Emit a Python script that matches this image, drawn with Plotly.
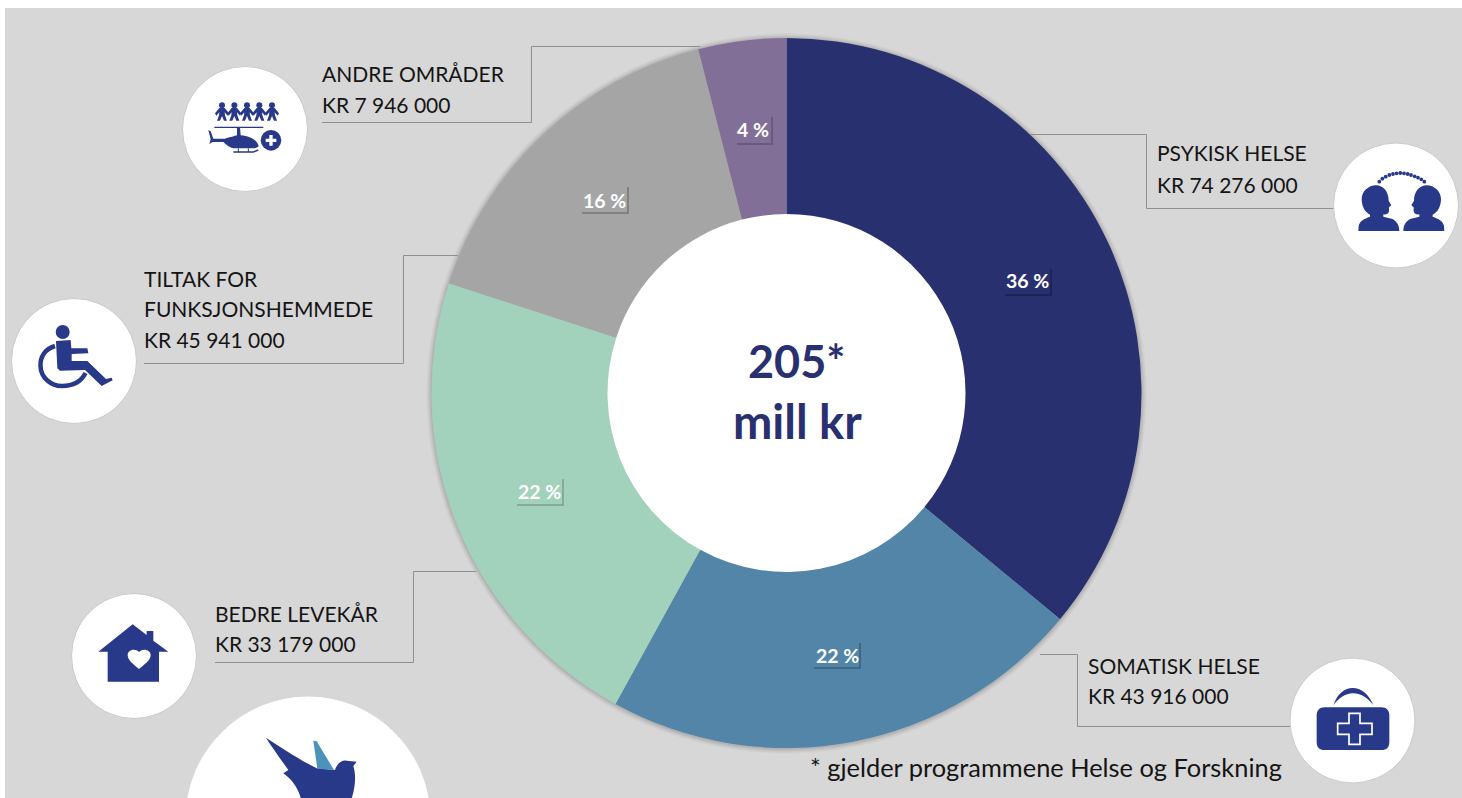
import re
import plotly.graph_objects as go

W, H = 1462, 798

# ---- data ----
slice_names = ["Psykisk helse", "Somatisk helse", "Tiltak for funksjonshemmede", "Bedre levekår", "Andre områder"]
slice_percent = [36, 22, 22, 16, 4]
slice_text = ["36 %", "22 %", "22 %", "16 %", "4 %"]
slice_colors = ["#29306f", "#5285a8", "#a2d1bc", "#a5a5a5", "#826f98"]
centre_lines = ["205*", "mill kr"]
footnote = "* gjelder programmene Helse og Forskning"
label_lines = [
    ("ANDRE OMRÅDER", 322, 74), ("KR 7 946 000", 322, 104),
    ("PSYKISK HELSE", 1157, 153), ("KR 74 276 000", 1157, 184),
    ("TILTAK FOR", 144, 278), ("FUNKSJONSHEMMEDE", 144, 308), ("KR 45 941 000", 144, 339),
    ("BEDRE LEVEKÅR", 215, 613), ("KR 33 179 000", 215, 643),
    ("SOMATISK HELSE", 1088, 665), ("KR 43 916 000", 1088, 695),
]
slice_label_pos = [(1027, 281), (837, 655), (539, 491), (604, 200), (753, 130)]

NAVY = "#29398a"
TXT = "#141414"
BG = "#d7d7d7"
LINE = "#8e8e8e"
CX, CY, R_OUT, R_IN = 786.5, 393, 355, 179

def px(x): return x / W
def py(y): return 1 - y / H

def path(s, ox=0, oy=0, k=1.0):
    """path in picture pixels (or zoomed pixels) -> paper coordinates"""
    toks = re.findall(r"[A-Za-z]|-?\d+\.?\d*", s)
    out, i = [], 0
    for t in toks:
        if t.isalpha():
            out.append(t); i = 0
        else:
            v = float(t) / k
            if i % 2 == 0:
                out.append(f"{px(v + ox):.5f}")
            else:
                out.append(f"{py(v + oy):.5f}")
            i += 1
    return " ".join(out)

shapes = []
def poly(s, ox=0, oy=0, k=1.0, fill=NAVY, layer="above"):
    shapes.append(dict(type="path", xref="paper", yref="paper", path=path(s, ox, oy, k),
                       fillcolor=fill, line=dict(width=0), layer=layer))
def stroke(s, color=LINE, width=1, ox=0, oy=0, k=1.0, layer="above"):
    shapes.append(dict(type="path", xref="paper", yref="paper", path=path(s, ox, oy, k),
                       fillcolor="rgba(0,0,0,0)", line=dict(width=width, color=color), layer=layer))
def circle(cx, cy, r, fill="white", line=None, lw=0, layer="above"):
    shapes.append(dict(type="circle", xref="paper", yref="paper",
                       x0=px(cx - r), x1=px(cx + r), y0=py(cy + r), y1=py(cy - r),
                       fillcolor=fill, line=dict(width=lw, color=line or fill), layer=layer))

# background panel
shapes.append(dict(type="rect", xref="paper", yref="paper", x0=px(5), x1=1, y0=0, y1=py(8),
                   fillcolor=BG, line=dict(width=0), layer="below"))
# soft donut shadow + centre
for dr, a in [(5, 0.035), (4, 0.04), (3, 0.05), (2, 0.06), (1, 0.08)]:
    circle(CX, CY + 0.5, R_OUT + dr, fill=f"rgba(70,70,70,{a})", layer="below")
circle(CX, CY, R_IN + 1, fill="white", layer="below")

# leader lines
for s in ["M1030,134.5 L1146.5,134.5 L1146.5,208.5 L1334,208.5",
          "M1040,654.5 L1077.5,654.5 L1077.5,726.5 L1290,726.5",
          "M476,571.5 L413.5,571.5 L413.5,662.5 L215,662.5",
          "M458,255.5 L403.5,255.5 L403.5,363.5 L144,363.5",
          "M700,46.5 L531.5,46.5 L531.5,122.5 L322,122.5"]:
    stroke(s)

# icon discs
for cx, cy, r in [(245, 129, 62.5), (1396, 205.5, 62.5), (74, 361, 62.5), (134, 656, 62.5), (1352.5, 720.5, 62.5), (308, 819, 122)]:
    circle(cx, cy, r, line="#cacaca" if r < 100 else "white", lw=1)

# label shadow tabs (right + bottom edges)
for x0, y0, x1, y1, c in [(1005, 269, 1051, 295, "rgba(15,20,60,0.6)"),
                          (814, 643, 860, 668, "rgba(25,50,75,0.45)"),
                          (517, 479, 563, 505, "rgba(80,100,90,0.45)"),
                          (582, 187, 628, 213, "rgba(70,70,70,0.5)"),
                          (737, 117, 772, 144, "rgba(60,45,80,0.45)")]:
    stroke(f"M{x1},{y0} L{x1},{y1} L{x0},{y1}", color=c, width=1.5)

# --- bird ---
poly("M258,143 C300,170 360,210 410,235 L465,240 C470,222 485,208 500,212 L530,215 L520,228 C530,260 525,300 510,340 L365,340 C362,310 345,275 310,250 L325,240 C300,205 275,170 258,143 Z", 180, 690, 3)
poly("M400,152 L410,154 L462,240 L412,236 Z", 180, 690, 3, fill="#4c93bb")

# --- wheelchair ---
circle(62.7, 332, 7, fill=NAVY)
poly("M168,168 L212,165 L214,190 L262,190 L265,205 L215,207 L215,228 L262,228 L318,282 L335,278 L338,286 L305,303 L255,255 L180,257 L172,250 Z", 0, 285, 3)
stroke("M55,346 C45,349 40,357 40.5,366 C41,378 51,386 62,386 C72,386 81,382 85.5,373", color=NAVY, width=4.5)

# --- house ---
poly("M218,118 L260,150 L260,138 L280,138 L280,167 L325,200 L297,200 L297,290 L143,290 L143,200 L115,200 Z", 60, 585, 3)
poly("M237,252 C220,238 203,225 203,210 C203,195 225,188 237,201 C249,188 272,195 272,210 C272,225 254,238 237,252 Z", 60, 585, 3, fill="white")

# --- medical bag ---
poly("M134,172 L304,172 C320,172 328,182 328,196 L328,276 C328,292 320,300 304,300 L134,300 C118,300 110,292 110,276 L110,196 C110,182 118,172 134,172 Z", 1280, 650, 3)
poly("M160,166 C172,130 195,114 218,114 C245,114 268,135 280,166 C265,146 245,130 219,130 C195,130 175,146 160,166 Z", 1280, 650, 3)
stroke("M207,190 L240,190 L240,220 L276,220 L276,253 L240,253 L240,283 L207,283 L207,253 L173,253 L173,220 L207,220 Z",
       color="white", width=1.7, ox=1280, oy=650, k=3)

# --- two heads ---
HEAD = "M115,303 L116,288 C118,274 132,266 150,260 L150,254 C134,246 125,228 125,207 C125,185 145,166 168,166 C190,166 206,185 206,212 L214,226 L207,232 L207,244 C205,252 197,255 190,253 L190,260 L215,266 C230,272 238,285 238,303 Z"
poly(HEAD, 1320, 130, 3)
def mirrored(s):
    toks = re.findall(r"[A-Za-z]|-?\d+\.?\d*", s)
    out, i = [], 0
    for t in toks:
        if t.isalpha():
            out.append(t); i = 0
        else:
            out.append(str(488 - float(t)) if i % 2 == 0 else t); i += 1
    return " ".join(out)
poly(mirrored(HEAD), 1320, 130, 3)
for x, y in [(178,155),(187,146),(197,140),(208,135),(219,132),(230,130),(241,129),(252,130),(263,132),(273,135),(284,139),(294,143),(304,148),(313,155)]:
    circle(1320 + x / 3, 130 + y / 3, 1.9, fill=NAVY)

# --- people and helicopter ---
for cx in [156, 193, 231, 268, 306]:
    circle(170 + cx / 3, 50 + 166 / 3, 3, fill=NAVY)
    body = [(-8,174),(8,174),(21,190),(17,197),(8,187),(9,196),(15,212),(6,212),(0,198),(-6,212),(-15,212),(-9,196),(-8,187),(-17,197),(-21,190)]
    poly("M" + " L".join(f"{cx + x},{y}" for x, y in body) + " Z", 170, 50, 3)
stroke("M133,232 L280,232", color=NAVY, width=1.2, ox=170, oy=50, k=3)
poly("M201,232 L210,232 L212,256 C240,258 262,270 266,288 C262,294 255,295 245,295 L190,295 C175,292 165,280 160,276 L128,276 L118,282 L122,268 L115,240 L122,244 L130,266 L165,266 C180,262 195,258 201,256 Z", 170, 50, 3)
stroke("M190,306 L250,306 L265,300", color=NAVY, width=1.5, ox=170, oy=50, k=3)
stroke("M205,295 L205,306 M235,295 L235,306", color=NAVY, width=1, ox=170, oy=50, k=3)
circle(170 + 303 / 3, 50 + 271 / 3, 10.3, fill=NAVY)
poly("M298,255 L308,255 L308,266 L319,266 L319,276 L308,276 L308,287 L298,287 L298,276 L287,276 L287,266 L298,266 Z", 170, 50, 3, fill="white")

# annotations
ann = []
def note(text, x, y, size, color, anchor="center", family="Lato"):
    ann.append(dict(text=text, x=px(x), y=py(y), xref="paper", yref="paper", xanchor=anchor, yanchor="middle",
                    showarrow=False, font=dict(family=family, size=size, color=color)))
for t, x, y in label_lines:
    note(t, x - 2, y, 21, TXT, "left")
note(f"<b>{centre_lines[0]}</b>", 796, 361, 45, "#29306f")
note(f"<b>{centre_lines[1]}</b>", 797, 421, 47, "#29306f")
note(footnote, 808, 767, 25.4, TXT, "left")
for t, (x, y) in zip(slice_text, slice_label_pos):
    note(f"<b>{t}</b>", x, y, 19.5, "white")

pie = go.Pie(labels=slice_names, values=slice_percent, textinfo="none",
             sort=False, direction="clockwise", rotation=0, hole=R_IN / R_OUT,
             marker=dict(colors=slice_colors, line=dict(width=0)),
             domain=dict(x=[px(CX - R_OUT), px(CX + R_OUT)], y=[py(CY + R_OUT), py(CY - R_OUT)]),
             showlegend=False)

fig = go.Figure(pie)
fig.update_layout(width=W, height=H, margin=dict(l=0, r=0, t=0, b=0), paper_bgcolor="white",
                  plot_bgcolor="white", shapes=shapes, annotations=ann, showlegend=False)
fig.write_html("out.html", config=dict(displayModeBar=False),
               post_script="document.body.style.margin='0';document.body.style.overflow='hidden';")
